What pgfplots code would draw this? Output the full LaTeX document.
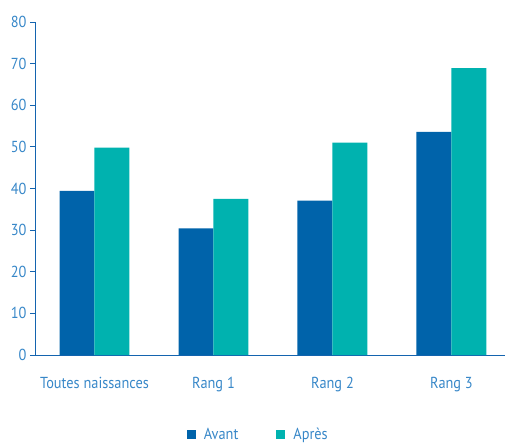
\documentclass[border=0pt]{standalone}
\usepackage{pgfplots}
\pgfplotsset{compat=1.18}
\usepackage{fontspec}
\setmainfont{PT Sans}[FakeStretch=0.9]
\definecolor{avant}{RGB}{0,99,170}
\definecolor{apres}{RGB}{0,178,175}
\definecolor{axcol}{RGB}{20,100,175}
\definecolor{txtcol}{RGB}{55,135,200}
\begin{document}
\begin{tikzpicture}
\path[use as bounding box] (0,0) rectangle (507bp,443bp);
\begin{axis}[
  at={(35bp,88bp)}, anchor=south west,
  scale only axis, width=470bp, height=333bp,
  ymin=0, ymax=80, ytick={0,10,...,80},
  xmin=-0.5, xmax=3.45,
  xtick={0,1,2,3},
  xticklabels={Toutes naissances, Rang 1, Rang 2, Rang 3},
  extra x ticks={-0.5,0.5,1.5,2.5},
  extra x tick labels={},
  extra x tick style={major tick length=7bp, tick style={axcol, line width=0.8pt}},
  axis x line=bottom, axis y line=left,
  axis line style={axcol, line width=0.8pt, -},
  tick style={axcol, line width=0.8pt},
  tick align=outside,
  x tick style={draw=none},
  major tick length=5bp,
  xticklabel style={yshift=-14bp},
  ticklabel style={font=\fontsize{16}{17}\selectfont, text=txtcol},
  /pgf/number format/assume math mode=true,
  ybar, bar width=0.294, 
  legend style={at={(0.475,-0.24)}, anchor=center, draw=none, legend columns=2,
    font=\fontsize{16}{17}\selectfont, text=txtcol,
    /tikz/every odd column/.append style={column sep=6bp},
    /tikz/every even column/.append style={column sep=36bp}},
  legend image code/.code={\fill[#1] (0bp,-4.5bp) rectangle (9bp,4.5bp);},
  clip=false,
]
\addplot[fill=avant, draw=none, bar shift=-0.147] coordinates {(0,39.4) (1,30.4) (2,37.1) (3,53.6)};
\addplot[fill=apres, draw=none, bar shift=0.147] coordinates {(0,49.8) (1,37.5) (2,51.0) (3,68.9)};
\legend{Avant, Après}
\end{axis}
\end{tikzpicture}
\end{document}
